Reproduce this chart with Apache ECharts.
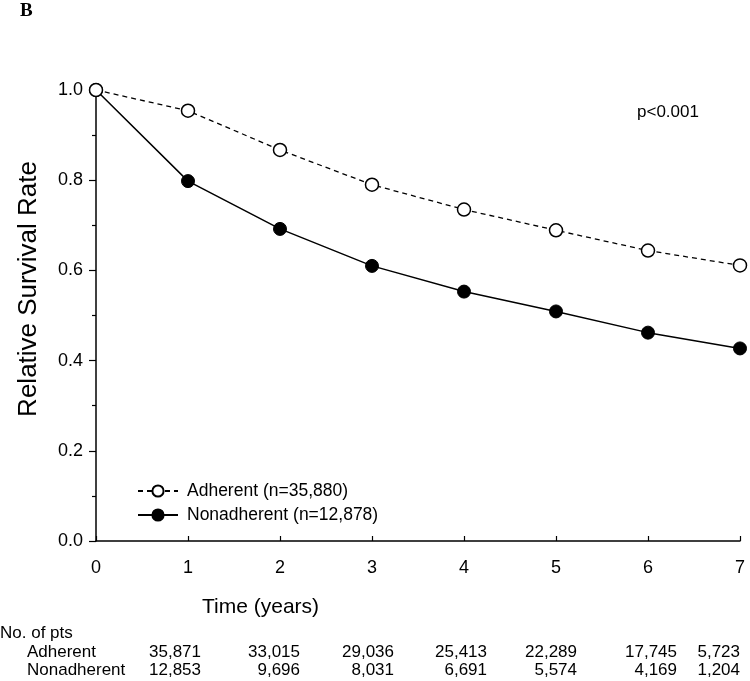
<!DOCTYPE html>
<html>
<head>
<meta charset="utf-8">
<script src="https://cdn.jsdelivr.net/npm/echarts@6/dist/echarts.min.js"></script>
<style>html,body{margin:0;padding:0;background:#fff;}#c{width:750px;height:681px;}</style>
</head>
<body>
<div id="c"></div>
<script>
var years = [0, 1, 2, 3, 4, 5, 6, 7];
var adherent = [1.0, 0.954, 0.867, 0.790, 0.735, 0.689, 0.644, 0.611];
var nonadherent = [1.0, 0.798, 0.692, 0.610, 0.553, 0.509, 0.462, 0.427];
var adherentLabel = 'Adherent (n=35,880)';
var nonadherentLabel = 'Nonadherent (n=12,878)';
var ptsAdherent = ['35,871', '33,015', '29,036', '25,413', '22,289', '17,745', '5,723'];
var ptsNonadherent = ['12,853', '9,696', '8,031', '6,691', '5,574', '4,169', '1,204'];

var FONT = 'Liberation Sans, Arial, sans-serif';
var colRight = [201, 300, 394, 487, 577, 677, 740];

var chart = echarts.init(document.getElementById('c'), null, {renderer: 'canvas'});

function pairs(vals) { return years.map(function (y, i) { return [y, vals[i]]; }); }

var graphics = [
  {type: 'text', left: 20, top: 2, style: {text: 'B', font: 'bold 19px "Liberation Serif", serif', fill: '#000'}},
  {type: 'text', left: 637, top: 104, style: {text: 'p<0.001', font: '17px ' + FONT, fill: '#000'}},
  {type: 'text', left: 202, top: 597, style: {text: 'Time (years)', font: '21px ' + FONT, fill: '#000'}},
  {type: 'text', left: 0, top: 625, style: {text: 'No. of pts', font: '17px ' + FONT, fill: '#000'}},
  {type: 'text', left: 27, top: 644, style: {text: 'Adherent', font: '17px ' + FONT, fill: '#000'}},
  {type: 'text', left: 27, top: 662, style: {text: 'Nonadherent', font: '17px ' + FONT, fill: '#000'}},
  {type: 'text', x: 16, y: 289, rotation: Math.PI / 2,
    style: {text: 'Relative Survival Rate', font: '26px ' + FONT, fill: '#000', align: 'center', verticalAlign: 'top'}}
];
ptsAdherent.forEach(function (t, i) {
  graphics.push({type: 'text', x: colRight[i], y: 644, style: {text: t, font: '17px ' + FONT, fill: '#000', align: 'right'}});
});
ptsNonadherent.forEach(function (t, i) {
  graphics.push({type: 'text', x: colRight[i], y: 662, style: {text: t, font: '17px ' + FONT, fill: '#000', align: 'right'}});
});

chart.setOption({
  animation: false,
  backgroundColor: '#fff',
  grid: {left: 96, right: 10, top: 90, bottom: 140, containLabel: false},
  legend: {
    orient: 'vertical', left: 132, top: 476,
    itemWidth: 40, itemHeight: 14, itemGap: 4,
    data: [adherentLabel, nonadherentLabel],
    textStyle: {fontFamily: FONT, fontSize: 17.5, color: '#000', lineHeight: 20, padding: [0, 0, 0, 4]}
  },
  xAxis: {
    type: 'value', min: 0, max: 7, interval: 1,
    axisLine: {show: true, onZero: false, lineStyle: {color: '#000', width: 1.5}},
    axisTick: {show: true, inside: true, length: 5, lineStyle: {color: '#000', width: 1.2}},
    axisLabel: {color: '#000', fontFamily: FONT, fontSize: 18, margin: 18},
    splitLine: {show: false}
  },
  yAxis: {
    type: 'value', min: 0, max: 1, interval: 0.2,
    axisLine: {show: true, lineStyle: {color: '#000', width: 1.5}},
    axisTick: {show: true, length: 7, lineStyle: {color: '#000', width: 1.2}},
    minorTick: {show: true, splitNumber: 2, length: 4, lineStyle: {color: '#000', width: 1.2}},
    axisLabel: {color: '#000', fontFamily: FONT, fontSize: 18, margin: 13,
      formatter: function (v) { return v.toFixed(1); }},
    splitLine: {show: false}
  },
  series: [
    {
      name: adherentLabel, type: 'line', data: pairs(adherent), z: 3,
      symbol: 'circle', symbolSize: 13,
      lineStyle: {color: '#000', width: 1.3, type: [5, 4]},
      itemStyle: {color: '#fff', borderColor: '#000', borderWidth: 1.5}
    },
    {
      name: nonadherentLabel, type: 'line', data: pairs(nonadherent), z: 2,
      symbol: 'circle', symbolSize: 13,
      lineStyle: {color: '#000', width: 1.5, type: 'solid'},
      itemStyle: {color: '#000', borderColor: '#000', borderWidth: 1}
    }
  ],
  graphic: graphics
});
</script>
</body>
</html>
